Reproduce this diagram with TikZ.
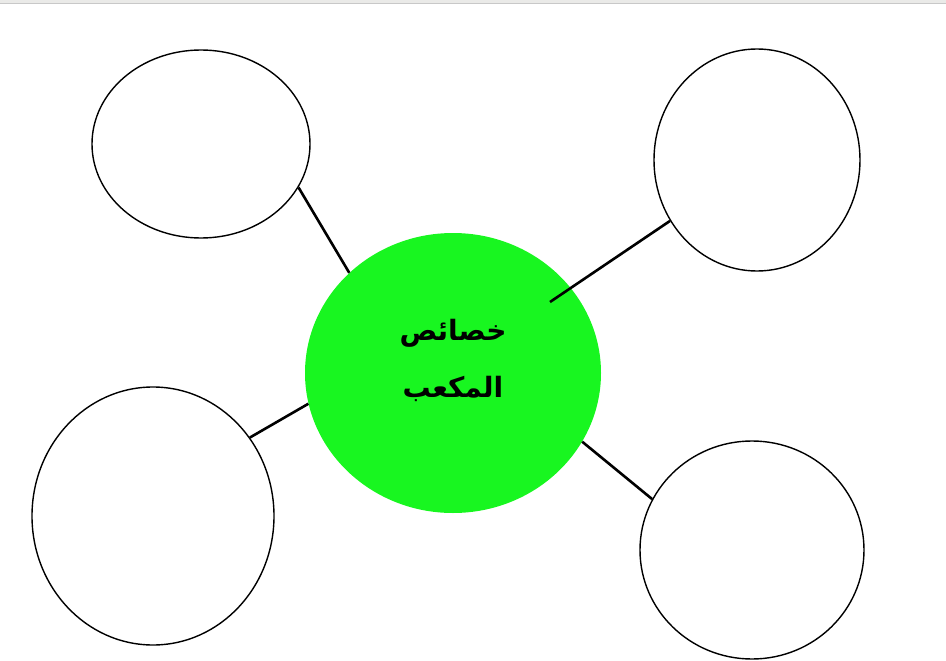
\documentclass[tikz,border=0pt]{standalone}
\usepackage{fontspec}
\usetikzlibrary{shapes.geometric}
\newfontfamily\arabicfont[Script=Arabic]{DejaVu Sans}
\TeXXeTstate=1
\definecolor{hubgreen}{RGB}{24,246,32}
\definecolor{barfill}{RGB}{234,234,232}
\definecolor{barline}{RGB}{200,200,200}
\tikzset{
  leaf/.style={draw=black, line width=1.4pt, ellipse, inner sep=0pt, fill=white},
  hub/.style={ellipse, fill=hubgreen, draw=none, inner sep=0pt},
  link/.style={draw=black, line width=2.6pt},
  label/.style={font=\arabicfont\bfseries\fontsize{28}{32}\selectfont, inner sep=0pt}
}
\begin{document}
\begin{tikzpicture}[x=1pt,y=-1pt]
\useasboundingbox (0,0) rectangle (946,661);
\fill[barfill] (0,0) rectangle (946,4);
\draw[barline, line width=1pt] (0,4) -- (946,4);
\node[hub, minimum width=296pt, minimum height=280pt] (g) at (453,373) {};
\node[leaf, minimum width=218pt, minimum height=188pt] (tl) at (201,144) {};
\node[leaf, minimum width=206pt, minimum height=222pt] (tr) at (757,160) {};
\node[leaf, minimum width=242pt, minimum height=258pt] (bl) at (153,516) {};
\node[leaf, minimum width=224pt, minimum height=218pt] (br) at (752,550) {};
\coordinate (gtr) at (550,302);
\draw[link] (tl.-24) -- (g.136.7);
\draw[link] (gtr) -- (tr.215.8);
\draw[link] (bl.39.2) -- (g.192.3);
\draw[link] (g.-28.7) -- (br.153.9);
\node[label] (t1) at (453,333) {\beginR خصائص\endR};
\node[label] (t2) at (453,389) {\beginR المكعب\endR};
\end{tikzpicture}
\end{document}
